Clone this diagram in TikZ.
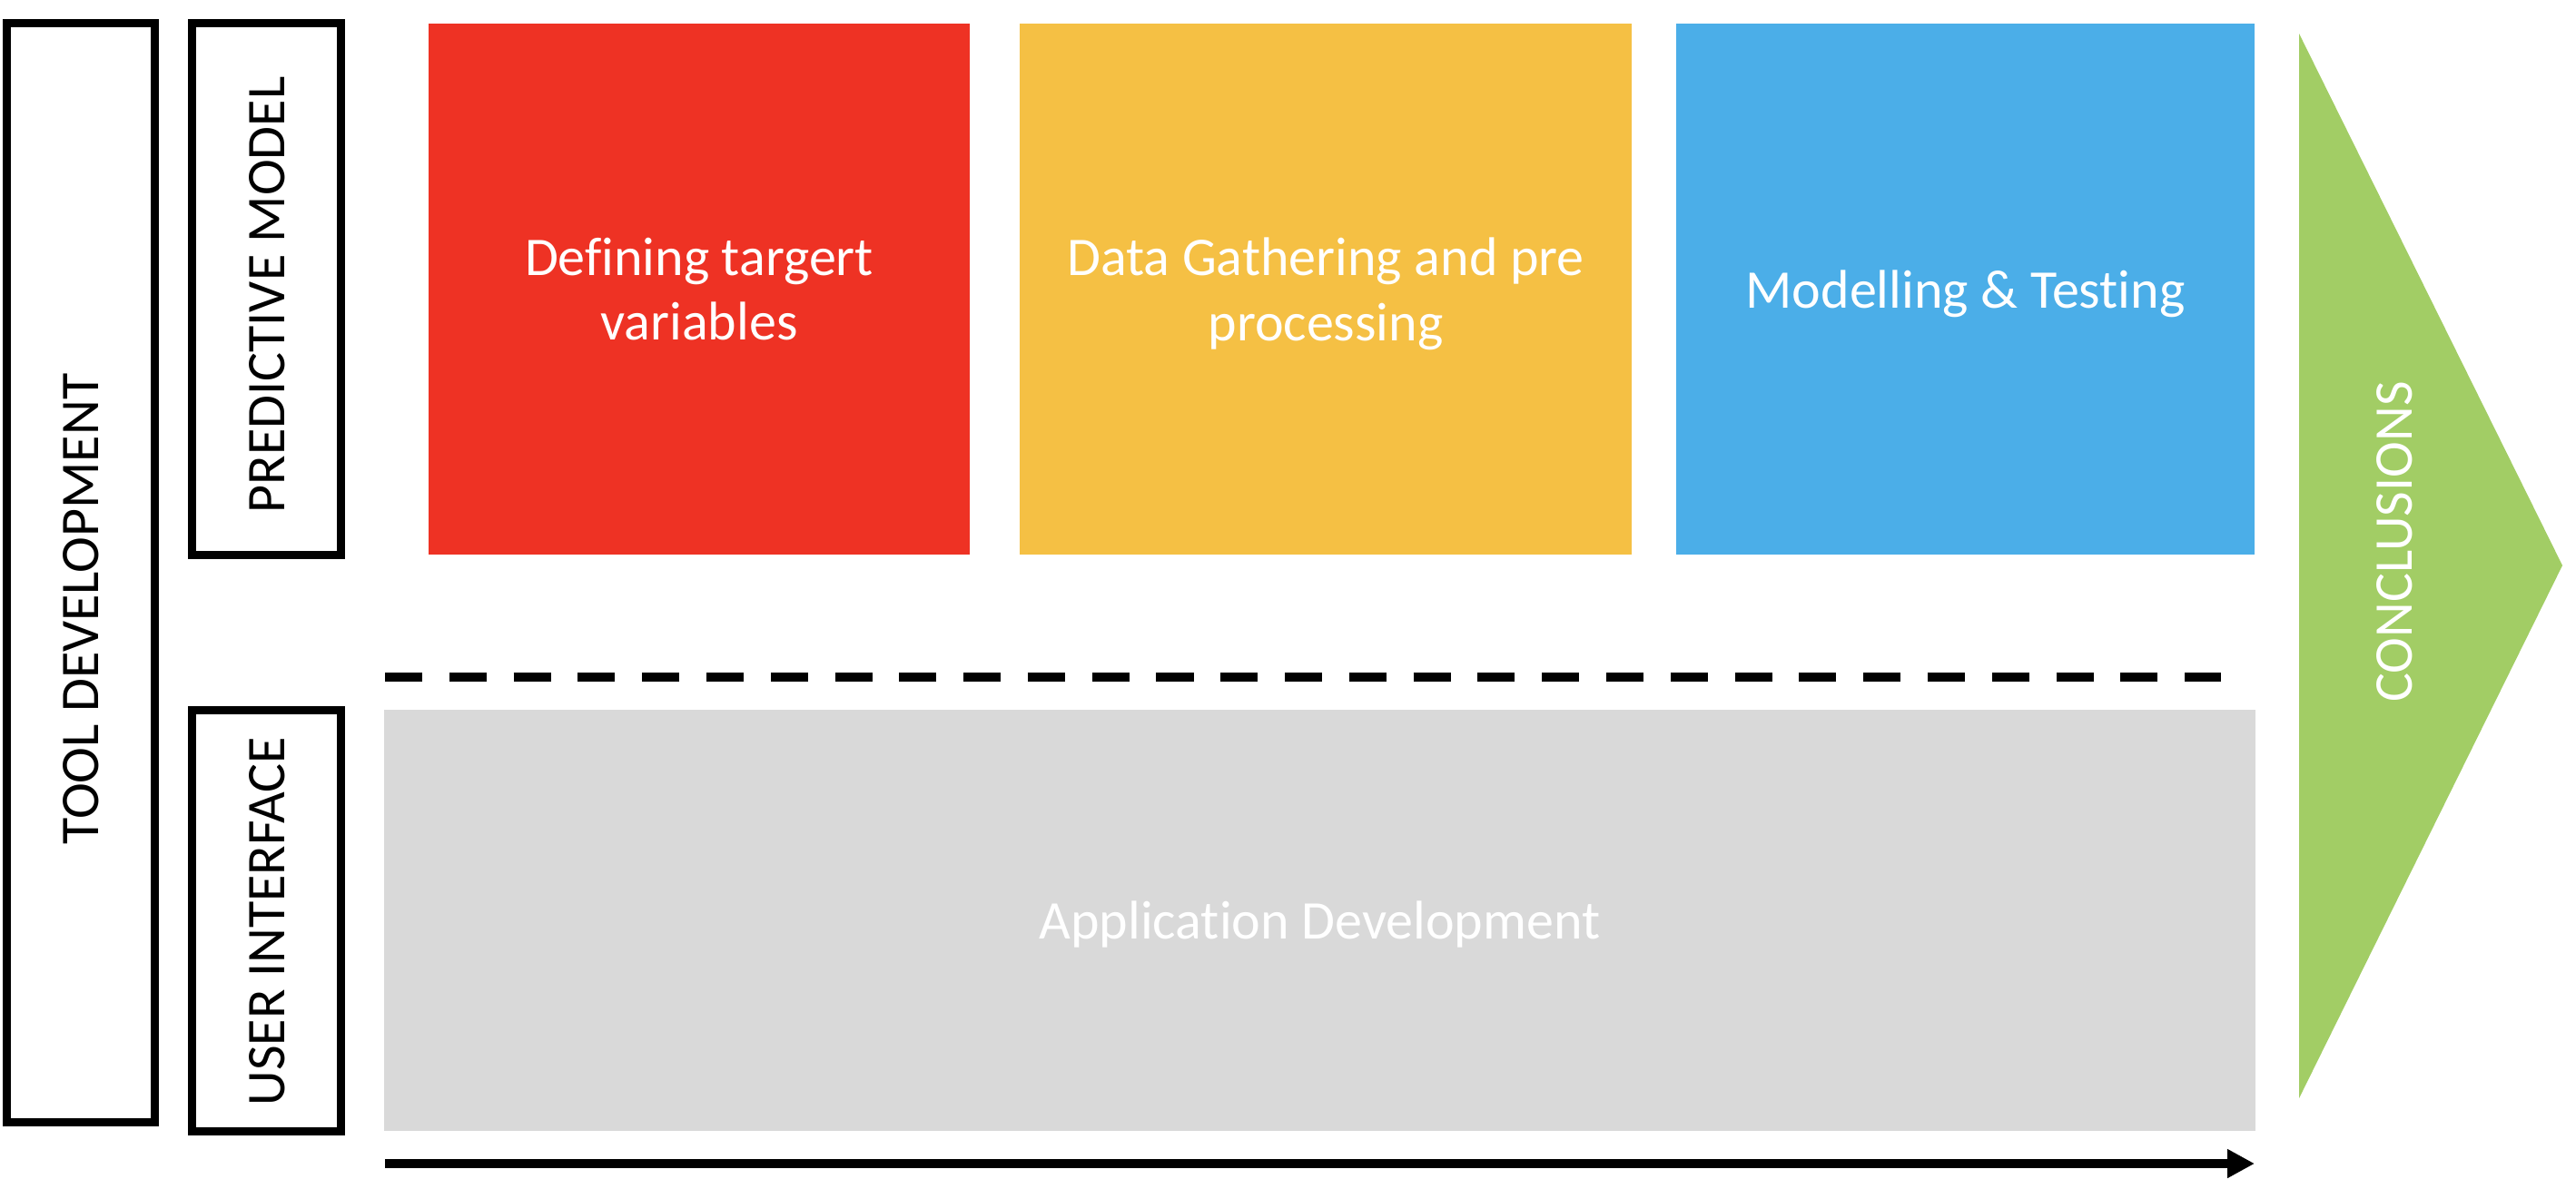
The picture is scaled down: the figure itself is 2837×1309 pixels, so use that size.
\documentclass[tikz,border=0pt]{standalone}
\usepackage{fontspec}
\setmainfont{Carlito}[Ligatures={NoCommon}]
\usepackage{tikz}
\usetikzlibrary{arrows.meta}
\definecolor{eeredd}{RGB}{238,50,36}
\definecolor{ffyell}{RGB}{245,192,68}
\definecolor{bbblue}{RGB}{75,174,232}
\definecolor{ddgray}{RGB}{217,217,217}
\definecolor{aagren}{RGB}{162,205,101}

\begin{document}
\begin{tikzpicture}[x=0.01cm,y=-0.01cm,
	txt/.style={font=\fontsize{17.07pt}{20.3pt}\selectfont},
	stage/.style={txt,inner sep=0pt,outer sep=0pt,text=white,align=center,text depth=0pt,minimum height=5.85cm},
	frame/.style={draw=black,line width=2.56pt,inner sep=0pt,outer sep=0pt,minimum width=1.64cm},
	side/.style={txt,rotate=90,inner sep=0pt}]
		\useasboundingbox (0,0) rectangle (2837,1309);
		% side frames
		\node[frame,minimum width=1.625cm,minimum height=12.11cm] (tool) at (89.25,631) {};
		\node[frame,minimum height=5.86cm] (pred) at (293.5,318.5) {};
		\node[frame,minimum height=4.64cm] (user) at (293.5,1014.5) {};
		\node[side] (tooltxt) at (89.5,671) {TOOL DEVELOPMENT};
		\node[side] (predtxt) at (294,325) {PREDICTIVE MODEL};
		\node[side] (usertxt) at (294,1015) {USER INTERFACE};
		% stages of the model
		\node[stage,fill=eeredd,minimum width=5.96cm] (define) at (770,318.5) {Defining targert\\variables};
		\node[stage,fill=ffyell,minimum width=6.74cm] (gather) at (1460,318.5) {Data Gathering and pre\\processing};
		\node[stage,fill=bbblue,minimum width=6.37cm] (model) at (2164.5,318.5) {Modelling \& Testing};
		\node[stage,fill=ddgray,minimum width=20.59cm,minimum height=4.64cm] (app) at (1453.5,1014) {Application Development};
		% separation and time line
		\coordinate (dashL) at (424,746);
		\coordinate (dashR) at (2446,746);
		\draw[line width=2.85pt,dash pattern=on 11.67pt off 8.46pt] (dashL) -- (dashR);
		\coordinate (timeL) at (424,1282);
		\coordinate (timeR) at (2483,1282);
		\draw[-{Triangle[length=8.54pt,width=8.54pt]},line width=2.85pt] (timeL) -- (timeR);
		% conclusions
		\fill[color=aagren] (2532,37) -- (2822,623) -- (2532,1210) -- cycle;
		\node[side,text=white] (concl) at (2637,597) {CONCLUSIONS};
\end{tikzpicture}
\end{document}
